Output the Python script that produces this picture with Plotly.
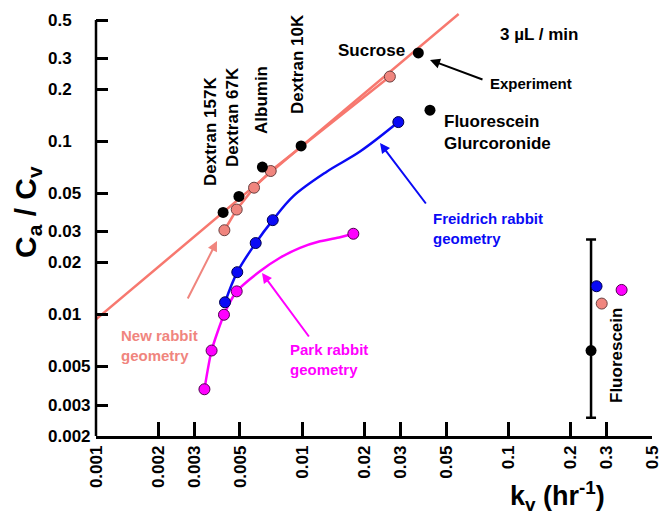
import math
import plotly.graph_objects as go

# ---------------- data ----------------
x_tick_vals = [0.001, 0.002, 0.003, 0.005, 0.01, 0.02, 0.03, 0.05, 0.1, 0.2, 0.3, 0.5]
x_tick_text = ["0.001", "0.002", "0.003", "0.005", "0.01", "0.02", "0.03", "0.05", "0.1", "0.2", "0.3", "0.5"]
y_tick_vals = [0.002, 0.003, 0.005, 0.01, 0.02, 0.03, 0.05, 0.1, 0.2, 0.3, 0.5]
y_tick_text = ["0.002", "0.003", "0.005", "0.01", "0.02", "0.03", "0.05", "0.1", "0.2", "0.3", "0.5"]

# Experiment (black)
exp_names = ["Dextran 157K", "Dextran 67K", "Albumin", "Dextran 10K", "Sucrose", "Fluorescein Glucuronide"]
exp_kv = [0.00414, 0.00494, 0.00642, 0.0099, 0.0367, 0.0418]
exp_ca = [0.0389, 0.0481, 0.071, 0.094, 0.323, 0.151]
# Fluorescein experiment with error bar
fl_exp_kv = [0.253]
fl_exp_ca = [0.00622]
fl_err_plus = [0.0209]
fl_err_minus = [0.00367]

# Fitted line through experiment (salmon)
fit_kv = [0.001, 0.0576]
fit_ca = [0.0094, 0.542]

# New rabbit geometry (salmon)
new_kv = [0.0042, 0.00482, 0.00585, 0.00705, 0.0267]
new_ca = [0.0307, 0.0404, 0.054, 0.0674, 0.236]
new_fl_kv = [0.285]
new_fl_ca = [0.0116]

# Friedrich rabbit geometry (blue): model points and the drawn model curve
fr_kv = [0.00423, 0.00485, 0.00596, 0.00721, 0.02935]
fr_ca = [0.0118, 0.0176, 0.0259, 0.0351, 0.129]
fr_curve_kv = [0.00423, 0.00485, 0.00596, 0.00721, 0.00908, 0.01318, 0.01912, 0.02935]
fr_curve_ca = [0.0118, 0.0176, 0.0259, 0.0351, 0.0483, 0.0668, 0.0872, 0.129]
fr_fl_kv = [0.269]
fr_fl_ca = [0.0146]

# Park rabbit geometry (magenta): model points and the drawn model curve
pk_kv = [0.00336, 0.00364, 0.00418, 0.00482, 0.01775]
pk_ca = [0.00372, 0.00622, 0.0100, 0.01364, 0.0293]
pk_curve_kv = [0.00336, 0.00364, 0.00418, 0.00482, 0.00625, 0.00782, 0.00978, 0.01223, 0.0153, 0.01775]
pk_curve_ca = [0.00372, 0.00622, 0.0100, 0.01364, 0.0178, 0.0213, 0.0243, 0.0265, 0.0280, 0.0293]
pk_fl_kv = [0.356]
pk_fl_ca = [0.0139]

# ---------------- styles ----------------
SALMON_LINE = "#F7786F"
SALMON = "#F0857E"
BLUE = "#0A0AF5"
MAGENTA = "#FF00FF"
FONT = "Liberation Sans, Arial, sans-serif"

OFF = 8  # page body margin offset of the rendered figure
W, H = 667 - OFF, 517 - OFF
L, T = 96 - OFF, 12 - OFF
PLOT_RIGHT, PLOT_BOTTOM = 652 - OFF, 436 - OFF
R, B = W - PLOT_RIGHT, H - PLOT_BOTTOM
PW, PH = PLOT_RIGHT - L, PLOT_BOTTOM - T


def px(xp):
    return (xp - OFF - L) / PW


def py(yp):
    return (PLOT_BOTTOM - (yp - OFF)) / PH


fig = go.Figure()

fig.add_trace(go.Scatter(x=fit_kv, y=fit_ca, mode="lines",
                         line=dict(color=SALMON_LINE, width=2.5), showlegend=False))
fig.add_trace(go.Scatter(x=new_kv, y=new_ca, mode="lines",
                         line=dict(color=SALMON_LINE, width=2.5), showlegend=False))
fig.add_trace(go.Scatter(x=fr_curve_kv, y=fr_curve_ca, mode="lines",
                         line=dict(color=BLUE, width=2.5, shape="spline", smoothing=1.0), showlegend=False))
fig.add_trace(go.Scatter(x=pk_curve_kv, y=pk_curve_ca, mode="lines",
                         line=dict(color=MAGENTA, width=2.5, shape="spline", smoothing=0.6), showlegend=False))

fig.add_trace(go.Scatter(x=fl_exp_kv, y=fl_exp_ca, mode="markers",
                         marker=dict(color="black", size=11),
                         error_y=dict(type="data", symmetric=False, array=fl_err_plus,
                                      arrayminus=fl_err_minus, color="black", thickness=2.5, width=5),
                         showlegend=False))


def marker_trace(xs, ys, fill, outline):
    return go.Scatter(x=xs, y=ys, mode="markers",
                      marker=dict(color=fill, size=11, line=dict(color=outline, width=1)),
                      showlegend=False)


fig.add_trace(marker_trace(new_kv + new_fl_kv, new_ca + new_fl_ca, SALMON, "#6a4040"))
fig.add_trace(marker_trace(fr_kv + fr_fl_kv, fr_ca + fr_fl_ca, BLUE, "#000050"))
fig.add_trace(marker_trace(pk_kv + pk_fl_kv, pk_ca + pk_fl_ca, MAGENTA, "#500050"))
fig.add_trace(go.Scatter(x=exp_kv, y=exp_ca, mode="markers", text=exp_names,
                         marker=dict(color="black", size=11), showlegend=False))

ymin = math.log10(0.002)
ymax = math.log10(0.5) + 8 / 173.0

fig.update_layout(
    width=W, height=H,
    margin=dict(l=L, r=R, t=T, b=B, autoexpand=False),
    paper_bgcolor="white", plot_bgcolor="white",
    font=dict(family=FONT, color="black"),
    xaxis=dict(type="log", range=[math.log10(0.001), math.log10(0.5)],
               tickvals=x_tick_vals, ticktext=x_tick_text, tickangle=-90,
               tickfont=dict(size=17, family=FONT, weight="bold", color="black"),
               ticks="inside", ticklen=14, tickwidth=2.5, tickcolor="black",
               showline=True, linewidth=2.5, linecolor="black",
               showgrid=False, zeroline=False, automargin=False),
    yaxis=dict(type="log", range=[ymin, ymax],
               tickvals=y_tick_vals, showticklabels=False,
               ticks="inside", ticklen=12, tickwidth=2.5, tickcolor="black",
               showline=False, showgrid=False, zeroline=False, automargin=False),
)

# y axis line from 0.002 up to 0.5 only
fig.add_shape(type="line", xref="paper", yref="paper", x0=0, x1=0,
              y0=0, y1=(math.log10(0.5) - ymin) / (ymax - ymin),
              line=dict(color="black", width=2.5))

annotations = []
for v, t in zip(y_tick_vals, y_tick_text):
    annotations.append(dict(x=0, xref="paper", y=math.log10(v), yref="y",
                            text=t, showarrow=False, xanchor="left", yanchor="middle",
                            xshift=-50, font=dict(size=17, weight="bold", family=FONT)))


def txt(text, x, y, size, color="black", angle=0, xanchor="center", align="center"):
    annotations.append(dict(x=px(x), y=py(y), xref="paper", yref="paper", text=text,
                            showarrow=False, textangle=angle, xanchor=xanchor, yanchor="middle",
                            align=align,
                            font=dict(size=size, color=color, weight="bold", family=FONT)))


txt("C<sub>a</sub> / C<sub>v</sub>", 27, 212, 30, angle=-90)
txt("k<sub>v</sub> (hr<sup>-1</sup>)", 557, 496, 27)
txt("Dextran 157K", 210, 132, 17, angle=-90)
txt("Dextran 67K", 233, 117, 17, angle=-90)
txt("Albumin", 262, 100, 17, angle=-90)
txt("Dextran 10K", 298, 64, 17, angle=-90)
txt("Sucrose", 371, 50, 17)
txt("3 \u00b5L / min", 539, 35, 17)
txt("Experiment", 531, 83, 15)
txt("Fluorescein<br>Glurcoronide", 442, 133, 17, xanchor="left", align="left")
txt("Freidrich rabbit<br>geometry", 431, 228, 15, color=BLUE, xanchor="left", align="left")
txt("Park rabbit<br>geometry", 288, 359, 15, color=MAGENTA, xanchor="left", align="left")
txt("New rabbit<br>geometry", 119, 345, 15, color=SALMON, xanchor="left", align="left")
txt("Fluorescein", 616, 356, 17, angle=-90)


def arrow(hx, hy, tx, ty, color):
    annotations.append(dict(x=px(hx), y=py(hy), xref="paper", yref="paper", text="",
                            showarrow=True, ax=tx - hx, ay=ty - hy, axref="pixel", ayref="pixel",
                            arrowhead=2, arrowsize=1, arrowwidth=2, arrowcolor=color))


arrow(430, 60, 484, 80, "black")
arrow(380, 143, 427, 205, BLUE)
arrow(262, 273, 310, 338, MAGENTA)
arrow(217, 241, 187, 300, SALMON)

fig.update_layout(annotations=annotations)

fig.write_html("out.html")
